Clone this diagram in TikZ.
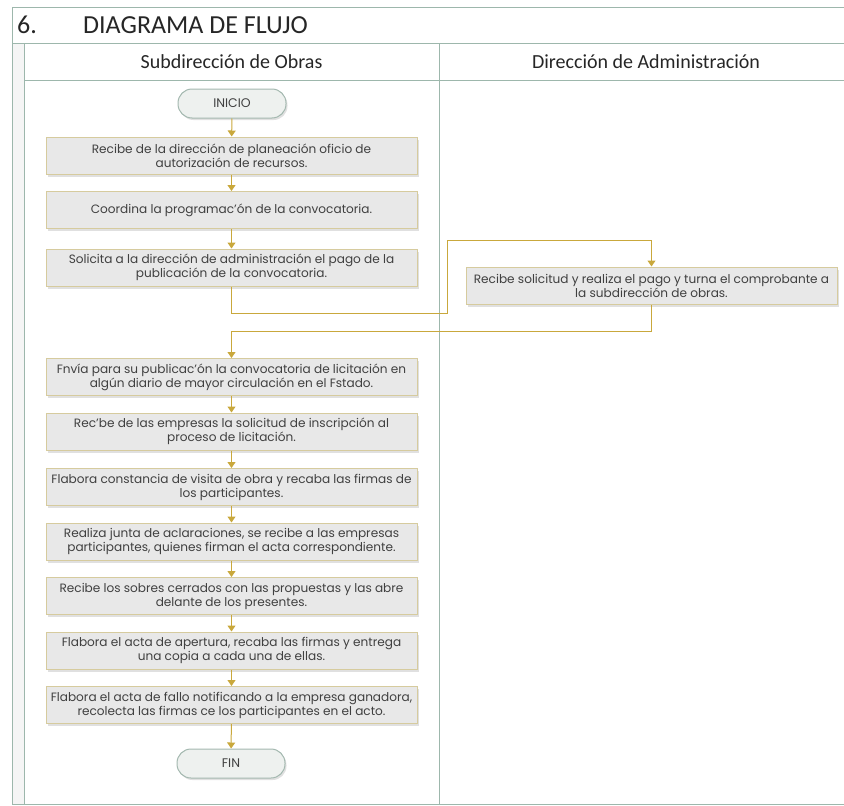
\documentclass[tikz,border=0pt]{standalone}
\usepackage{fontspec}
\setmainfont{Poppins}
\newfontfamily\hdrfont{Carlito}
\usetikzlibrary{arrows.meta,shadows}
\definecolor{lanecol}{HTML}{9DB7AC}
\definecolor{flowcol}{HTML}{C9A83C}
\definecolor{boxfill}{HTML}{E8E8E8}
\definecolor{boxedge}{HTML}{D6CB9E}
\definecolor{termfill}{HTML}{EEF1EF}
\definecolor{termedge}{HTML}{A3B8AF}
\definecolor{txtcol}{HTML}{404040}
\tikzset{
  lane/.style={draw=lanecol, line width=0.9pt},
  proc/.style={rectangle, draw=boxedge, line width=1pt, fill=boxfill,
    minimum width=371pt, minimum height=37pt, inner sep=0pt,
    align=center, font=\fontsize{12.1}{14}\selectfont, text=txtcol,
    drop shadow={shadow xshift=2pt, shadow yshift=-2.5pt, opacity=0.12, fill=black}},
  term/.style={rectangle, rounded corners=14pt, draw=termedge, line width=1pt, fill=termfill,
    minimum width=108pt, minimum height=29pt, inner sep=0pt,
    font=\fontsize{12.5}{14}\selectfont, text=txtcol,
    drop shadow={shadow xshift=1.5pt, shadow yshift=-2pt, opacity=0.12, fill=black}},
  flow/.style={draw=flowcol, line width=1pt, -{Triangle[width=8pt,length=6pt]}},
  hdr/.style={font=\hdrfont\fontsize{20}{22}\selectfont, text=black!85}
}
\begin{document}
\begin{tikzpicture}[x=1pt,y=-1pt]
\useasboundingbox (0,0) rectangle (844,806);
% frame and lanes
\fill[black!4] (12,43) rectangle (24,804);
\draw[lane] (12,7) -- (844,7);
\draw[lane] (12,7) -- (12,804) -- (844,804);
\draw[lane] (12,43) -- (844,43);
\draw[lane] (24,43) -- (24,804);
\draw[lane] (439,43) -- (439,804);
\draw[lane] (24,80) -- (844,80);
% title
\node[anchor=base west, font=\hdrfont\fontsize{26}{28}\selectfont, text=black!85, inner sep=0pt] (num) at (17,33) {6.};
\node[anchor=base west, font=\hdrfont\fontsize{26}{28}\selectfont, text=black!85, inner sep=0pt] (title) at (83,33) {DIAGRAMA DE FLUJO};
% lane headers
\node[hdr] (h1) at (231.5,62) {Subdirección de Obras};
\node[hdr] (h2) at (646,62) {Dirección de Administración};
% steps
\node[term] (ini) at (232,103.5) {INICIO};
\node[proc] (b1) at (231.5,155.5) {Recibe de la dirección de planeación oficio de\\autorización de recursos.};
\node[proc] (b2) at (231.5,210) {Coordina la programac'ón de la convocatoria.};
\node[proc] (b3) at (231.5,267.5) {Solicita a la dirección de administración el pago de la\\publicación de la convocatoria.};
\node[proc] (bR) at (651.5,285.5) {Recibe solicitud y realiza el pago y turna el comprobante a\\la subdirección de obras.};
\node[proc] (b4) at (231.5,377) {Fnvía para su publicac'ón la convocatoria de licitación en\\algún diario de mayor circulación en el Fstado.};
\node[proc] (b5) at (231.5,431.5) {Rec'be de las empresas la solicitud de inscripción al\\proceso de licitación.};
\node[proc] (b6) at (231.5,487) {Flabora constancia de visita de obra y recaba las firmas de\\los participantes.};
\node[proc] (b7) at (231.5,541.5) {Realiza junta de aclaraciones, se recibe a las empresas\\participantes, quienes firman el acta correspondiente.};
\node[proc] (b8) at (231.5,596) {Recibe los sobres cerrados con las propuestas y las abre\\delante de los presentes.};
\node[proc] (b9) at (231.5,650.5) {Flabora el acta de apertura, recaba las firmas y entrega\\una copia a cada una de ellas.};
\node[proc] (b10) at (231.5,705) {Flabora el acta de fallo notificando a la empresa ganadora,\\recolecta las firmas ce los participantes en el acto.};
\node[term] (fin) at (231,763.5) {FIN};
% connectors
\coordinate (c1) at (447,313);
\coordinate (c2) at (447,240);
\draw[flow] (ini) -- (b1);
\draw[flow] (b1) -- (b2);
\draw[flow] (b2) -- (b3);
\draw[flow] (b3.south) |- (c1) -- (c2) -| (bR.north);
\draw[flow] (bR.south) -- ++(0,27) -| (b4.north);
\draw[flow] (b4) -- (b5);
\draw[flow] (b5) -- (b6);
\draw[flow] (b6) -- (b7);
\draw[flow] (b7) -- (b8);
\draw[flow] (b8) -- (b9);
\draw[flow] (b9) -- (b10);
\draw[flow] (b10) -- (fin);
\end{tikzpicture}
\end{document}
